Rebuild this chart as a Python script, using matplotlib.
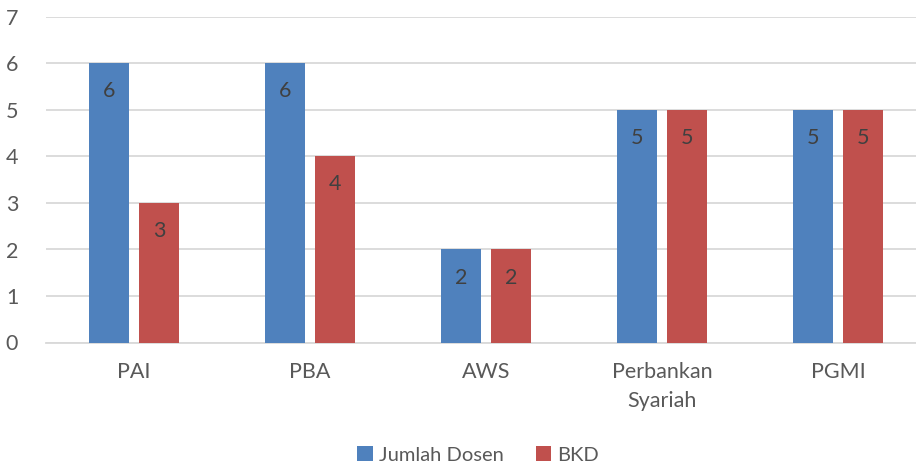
import numpy as np
import matplotlib
matplotlib.use('Agg')
import matplotlib.pyplot as plt

categories = ['PAI', 'PBA', 'AWS', 'Perbankan\nSyariah', 'PGMI']
jumlah_dosen = [6, 6, 2, 5, 5]
bkd = [3, 4, 2, 5, 5]
y_ticks = [0, 1, 2, 3, 4, 5, 6, 7]

plt.rcParams['font.family'] = ['Lato', 'DejaVu Sans']

BLUE = '#4F81BD'
RED = '#C0504D'
TEXT = '#595959'
FS = 15.5

fig = plt.figure(figsize=(9.16, 4.69), dpi=100)
# plot area runs past the right edge, like the cropped original
ax = fig.add_axes([46 / 916, 126.5 / 469, 880 / 916, 325.5 / 469])

x = np.arange(len(categories))
w = 0.222
off = 0.142
bars1 = ax.bar(x - off, jumlah_dosen, w, color=BLUE, label='Jumlah Dosen', zorder=3)
bars2 = ax.bar(x + off, bkd, w, color=RED, label='BKD', zorder=3)

# value labels inside the top of each bar
for bars in (bars1, bars2):
    for b in bars:
        ax.annotate(f'{int(b.get_height())}',
                    (b.get_x() + b.get_width() / 2, b.get_height()),
                    xytext=(0, -28), textcoords='offset pixels',
                    ha='center', va='center', fontsize=FS, color='#404040', zorder=4)

ax.set_xlim(-0.5, len(categories) - 0.5)
ax.set_ylim(0, 7)
ax.set_yticks(y_ticks)
ax.set_xticks(x)
ax.set_xticklabels(categories, fontsize=FS, color=TEXT, linespacing=1.55)
ax.tick_params(axis='y', labelsize=FS, labelcolor=TEXT, length=0, pad=20)
ax.tick_params(axis='x', length=0, pad=14)

ax.grid(axis='y', color='#D9D9D9', linewidth=1.3, zorder=0)
for s in ['top', 'right', 'left']:
    ax.spines[s].set_visible(False)
ax.spines['bottom'].set_color('#D9D9D9')
ax.spines['bottom'].set_linewidth(1.3)

fig.legend(handles=[bars1, bars2], labels=['Jumlah Dosen', 'BKD'],
           loc='center', bbox_to_anchor=(478 / 916, 1 - 455 / 469),
           ncol=2, frameon=False, fontsize=14.5, labelcolor=TEXT,
           handlelength=0.75, handleheight=0.75, handletextpad=0.3, columnspacing=1.6)

fig.savefig('out.png', dpi=100)
